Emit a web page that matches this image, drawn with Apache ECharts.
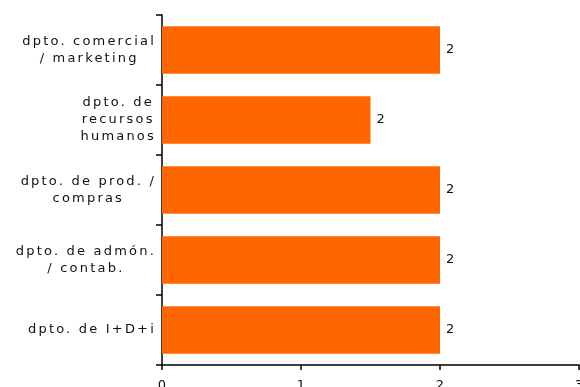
<!DOCTYPE html>
<html>
<head>
<meta charset="utf-8">
<style>
  html, body { margin: 0; padding: 0; background: #fff; }
  #chart { width: 580px; height: 387px; }
</style>
<script src="https://cdn.jsdelivr.net/npm/echarts@6/dist/echarts.min.js"></script>
</head>
<body>
<div id="chart"></div>
<script>
// Departments, listed bottom to top as drawn on the category axis
const departments = [
  'dpto. de I+D+i',
  'dpto. de admón.\n/ contab.',
  'dpto. de prod. /\ncompras',
  'dpto. de\nrecursos\nhumanos',
  'dpto. comercial\n/ marketing'
];
const values = [2, 2, 2, 1.5, 2];
const xTicks = [0, 1, 2, 3];

// Tracked lettering for the department names: the canvas letterSpacing is
// applied whenever the category-label font is selected.
const TRACKED_FAMILY = "'DejaVu Sans', sans-serif";
const PLAIN_FAMILY = "Verdana, 'DejaVu Sans'";
(function () {
  const proto = CanvasRenderingContext2D.prototype;
  const desc = Object.getOwnPropertyDescriptor(proto, 'font');
  if (!desc || !('letterSpacing' in proto)) return;
  Object.defineProperty(proto, 'font', {
    configurable: true,
    get: desc.get,
    set: function (v) {
      desc.set.call(this, v);
      this.letterSpacing = String(v).indexOf('sans-serif') >= 0 ? '2.2px' : '0px';
    }
  });
})();

const chart = echarts.init(document.getElementById('chart'), null, { renderer: 'canvas' });

const lines = (s) => s.split('\n').map(l => '{c|' + l + '}').join('\n');

chart.setOption({
  animation: false,
  grid: { left: 162, right: 1, top: 15, bottom: 22, containLabel: false, outerBoundsMode: 'none' },
  xAxis: {
    type: 'value',
    min: xTicks[0],
    max: xTicks[xTicks.length - 1],
    interval: 1,
    splitLine: { show: false },
    axisLine: { show: true, lineStyle: { color: '#000', width: 1.5 } },
    axisTick: { show: true, inside: false, length: 5, lineStyle: { color: '#000', width: 1.5 } },
    axisLabel: {
      margin: 14, color: '#111', fontSize: 13, fontFamily: PLAIN_FAMILY,
      showMinLabel: true, showMaxLabel: true, hideOverlap: false
    }
  },
  yAxis: {
    type: 'category',
    data: departments,
    axisLine: { show: true, lineStyle: { color: '#000', width: 1.5 } },
    axisTick: { show: true, inside: false, length: 6, alignWithLabel: false, lineStyle: { color: '#000', width: 1.5 } },
    axisLabel: {
      margin: 6,
      align: 'right',
      color: '#111',
      fontSize: 13,
      fontFamily: TRACKED_FAMILY,
      lineHeight: 17,
      formatter: (v) => lines(v),
      rich: { c: { align: 'center', fontSize: 13, fontFamily: TRACKED_FAMILY, lineHeight: 17, color: '#111' } }
    }
  },
  series: [{
    type: 'bar',
    data: values,
    barCategoryGap: '32%',
    itemStyle: { color: '#ff6600' },
    label: {
      show: true,
      position: 'right',
      distance: 6,
      color: '#111',
      fontSize: 13,
      fontFamily: PLAIN_FAMILY,
      formatter: (p) => String(Math.round(p.value))
    }
  }]
});
</script>
</body>
</html>
